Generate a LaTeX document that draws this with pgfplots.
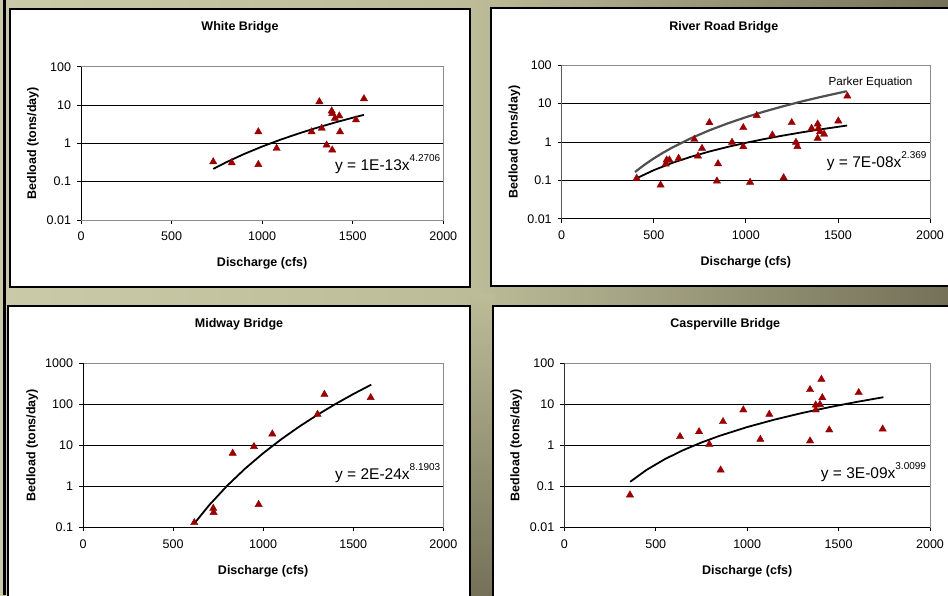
\documentclass[border=0pt]{standalone}
\usepackage{pgfplots}
\pgfplotsset{compat=1.18}
\usepackage{fontspec}
\setmainfont{Liberation Sans}
\definecolor{khakiL}{RGB}{202,202,168}
\definecolor{khakiM}{RGB}{188,188,152}
\definecolor{khakiD}{RGB}{116,113,88}
\definecolor{dred}{RGB}{153,0,0}
\definecolor{parker}{RGB}{80,80,80}
\definecolor{frame}{RGB}{140,140,140}
\newcommand{\tickfont}{\fontsize{12.5}{14}\selectfont}
\newcommand{\labfont}{\bfseries\fontsize{12.5}{14}\selectfont}
\newcommand{\eqfont}{\fontsize{15.5}{18}\selectfont}
\newcommand{\supfont}{\fontsize{10}{12}\selectfont}
\pgfplotsset{
  bedpanel/.style={
    scale only axis, xmin=0, xmax=2000,
    xtick={0,500,1000,1500,2000}, xticklabels={0,500,1000,1500,2000},
    axis line style={draw=frame, line width=0.9pt},
    ymajorgrids, major grid style={black, line width=0.8pt},
    tick pos=left, tick align=outside, major tick length=4pt,
    tick style={black, line width=0.8pt},
    yminorticks=false, xminorticks=false,
    ticklabel style={font=\tickfont},
    xticklabel style={yshift=-4.5pt},
    yticklabel style={xshift=-2.5pt},
    xlabel={Discharge (cfs)}, ylabel={Bedload (tons/day)},
    label style={font=\labfont},
  },
  pts/.style={only marks, mark=triangle*, mark size=4.2pt, mark options={fill=dred, draw=dred}},
  trend/.style={black, line width=1.8pt, no marks},
}
\begin{document}
\begin{tikzpicture}[x=1pt,y=1pt]
\clip (0,0) rectangle (948,595);
% background
\shade[left color=khakiL, right color=khakiD, middle color=khakiM] (0,0) rectangle (948,595);
\shade[top color=khakiM, bottom color=khakiD] (468,0) rectangle (495,300);
\fill[black] (2.7,0) rectangle (5.7,595);
% panels
\draw[fill=white, line width=1.5pt] (10,308) rectangle (470,586);
\draw[fill=white, line width=1.5pt] (491,309) rectangle (958,587);
\draw[fill=white, line width=1.5pt] (8,-10) rectangle (470,289);
\draw[fill=white, line width=1.5pt] (493,-10) rectangle (958,289);
% titles
\node[font=\labfont] at (240,567.3) {White Bridge};
\node[font=\labfont] at (723.8,568) {River Road Bridge};
\node[font=\labfont] at (239,270.7) {Midway Bridge};
\node[font=\labfont] at (725.3,270.3) {Casperville Bridge};

% ---------- White Bridge
\begin{axis}[bedpanel, ymode=log, at={(81pt,375pt)}, anchor=south west, width=362.3pt, height=153.3pt,
  ymin=0.01, ymax=100, ytick={0.01,0.1,1,10,100}, yticklabels={0.01,0.1,1,10,100},
  xlabel style={at={(axis description cs:0.5,-0.283)}, anchor=center},
  ylabel style={at={(axis description cs:-0.1325,0.5)}, anchor=center}]
\addplot[pts] coordinates {
(730,0.33) (832,0.31) (979,2.0) (979,0.28) (1080,0.74) (1273,2.0) (1316,12.2)
(1329,2.46) (1356,0.9) (1384,7.0) (1387,6.0) (1387,0.67) (1402,4.5) (1426,5.2)
(1430,2.0) (1518,4.1) (1562,14.6)};
\addplot[trend] coordinates {
(730,0.2154) (800,0.3184) (900,0.5266) (1000,0.8256) (1100,1.2406) (1200,1.799)
(1300,2.532) (1400,3.475) (1500,4.665) (1562,5.546)};
\draw[black, line width=0.9pt] (rel axis cs:0,1) -- (rel axis cs:0,0) -- (rel axis cs:1,0);
\end{axis}

% ---------- River Road Bridge
\begin{axis}[bedpanel, ymode=log, at={(561.7pt,376.3pt)}, anchor=south west, width=368.3pt, height=153.4pt,
  ymin=0.01, ymax=100, ytick={0.01,0.1,1,10,100}, yticklabels={0.01,0.1,1,10,100},
  xlabel style={at={(axis description cs:0.5,-0.285)}, anchor=center},
  ylabel style={at={(axis description cs:-0.1287,0.5)}, anchor=center}]
\addplot[parker, line width=2.2pt, no marks] coordinates {
(398,0.165) (450,0.256) (500,0.373) (550,0.524) (600,0.715) (700,1.24) (800,2.0)
(900,3.04) (1000,4.43) (1100,6.22) (1200,8.48) (1300,11.3) (1400,14.7) (1500,18.8)
(1548,21.1)};
\addplot[pts] coordinates {
(407,0.113) (537,0.0755) (565,0.267) (570,0.34) (585,0.34) (635,0.375) (720,1.17)
(740,0.43) (762,0.68) (802,3.19) (849,0.27) (843,0.096) (925,0.98) (986,0.755)
(986,2.37) (1023,0.089) (1059,4.9) (1144,1.52) (1205,0.117) (1249,3.2) (1272,0.98)
(1280,0.76) (1357,2.27) (1390,2.95) (1394,2.27) (1390,1.25) (1403,1.86) (1425,1.6)
(1502,3.53) (1551,15.8)};
\addplot[trend] coordinates {
(410,0.1153) (500,0.1845) (600,0.2841) (700,0.4093) (800,0.5616) (900,0.7423)
(1000,0.9528) (1100,1.194) (1200,1.467) (1300,1.774) (1400,2.115) (1550,2.691)};
\draw[black, line width=0.9pt] (rel axis cs:0,1) -- (rel axis cs:0,0) -- (rel axis cs:1,0);
\end{axis}

% ---------- Midway Bridge
\begin{axis}[bedpanel, ymode=log, at={(83pt,67.7pt)}, anchor=south west, width=360.3pt, height=164pt,
  ymin=0.1, ymax=1000, ytick={0.1,1,10,100,1000}, yticklabels={0.1,1,10,100,1000},
  xlabel style={at={(axis description cs:0.5,-0.269)}, anchor=center},
  ylabel style={at={(axis description cs:-0.1415,0.5)}, anchor=center}]
\addplot[pts] coordinates {
(618,0.13) (723,0.29) (725,0.23) (831,6.4) (949,9.3) (975,0.36) (1051,18.9)
(1302,57) (1340,175) (1597,146)};
\addplot[trend] coordinates {
(615,0.1197) (700,0.3453) (800,1.031) (900,2.705) (1000,6.411) (1100,13.99)
(1200,28.54) (1300,54.97) (1400,100.9) (1500,177.5) (1600,301.0)};
\draw[black, line width=0.9pt] (rel axis cs:0,1) -- (rel axis cs:0,0) -- (rel axis cs:1,0);
\end{axis}

% ---------- Casperville Bridge
\begin{axis}[bedpanel, ymode=log, at={(564.3pt,67.7pt)}, anchor=south west, width=365.7pt, height=164pt,
  ymin=0.01, ymax=100, ytick={0.01,0.1,1,10,100}, yticklabels={0.01,0.1,1,10,100},
  xlabel style={at={(axis description cs:0.5,-0.269)}, anchor=center},
  ylabel style={at={(axis description cs:-0.132,0.5)}, anchor=center}]
\addplot[pts] coordinates {
(359,0.0615) (633,1.63) (737,2.15) (793,1.06) (855,0.25) (868,3.78) (979,7.3)
(1072,1.4) (1121,5.7) (1344,22.8) (1344,1.28) (1375,7.3) (1375,9.6) (1398,9.9)
(1406,40.7) (1411,14.5) (1449,2.37) (1610,19.3) (1741,2.5)};
\addplot[trend] coordinates {
(360,0.1286) (450,0.2518) (550,0.4604) (650,0.7614) (750,1.171) (850,1.707)
(1000,2.785) (1150,4.240) (1300,6.133) (1450,8.518) (1600,11.46) (1745,14.88)};
\draw[black, line width=0.9pt] (rel axis cs:0,1) -- (rel axis cs:0,0) -- (rel axis cs:1,0);
\end{axis}

% equations
\node[anchor=base west, inner sep=0pt, font=\eqfont] at (335,424.3) {y = 1E-13x\raisebox{9pt}{\supfont 4.2706}};
\node[anchor=base west, inner sep=0pt, font=\eqfont] at (826.7,427.3) {y = 7E-08x\raisebox{9pt}{\supfont 2.369}};
\node[anchor=base west, inner sep=0pt, font=\eqfont] at (335,116) {y = 2E-24x\raisebox{9pt}{\supfont 8.1903}};
\node[anchor=base west, inner sep=0pt, font=\eqfont] at (820.7,116.7) {y = 3E-09x\raisebox{9pt}{\supfont 3.0099}};
\node[anchor=base west, inner sep=0pt, font=\fontsize{11.7}{14}\selectfont] at (828.3,509.7) {Parker Equation};
\end{tikzpicture}
\end{document}
